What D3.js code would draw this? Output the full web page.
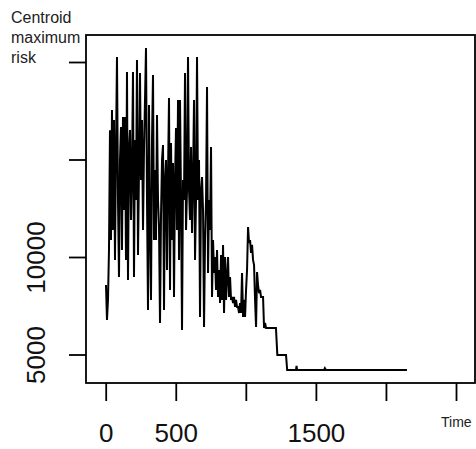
<!DOCTYPE html>
<html>
<head>
<meta charset="utf-8">
<script src="https://cdn.jsdelivr.net/npm/d3@7"></script>
<style>
  html, body { margin: 0; padding: 0; background: #fff; }
  svg { display: block; font-family: "Liberation Sans", Arial, sans-serif; }
</style>
</head>
<body>
<svg id="chart" width="476" height="449"></svg>
<script>
// dense part of the series, one sample every ~7.14 time units, starting at t = 2
const riskDense = [
  8560, 6770, 7800, 10360, 16500, 10870, 17540, 11380, 17030, 9850,
  15490, 20260, 12920, 8970, 14970, 16670, 10360, 17180, 12410, 17180,
  9850, 19490, 8820, 15490, 16510, 11900, 14460, 19490, 8970, 16000,
  12920, 20100, 10100, 14460, 19440, 13950, 17030, 11380, 15490, 18050,
  20720, 12920, 7280, 17800, 11380, 7800, 16000, 19330, 10870, 14460,
  10870, 17280, 12920, 11540, 6620, 12150, 14970, 15740, 7280, 13950,
  14970, 9330, 14200, 18150, 8310, 15850, 10870, 14820, 7950, 13950,
  16620, 11380, 18050, 9850, 18050, 12920, 6260, 13950, 12920, 19440,
  11380, 13440, 20260, 13440, 11900, 15640, 11230, 13950, 18050, 9850,
  12920, 20260, 12920, 14970, 6920, 13440, 14100, 12410, 6410, 10870,
  12920, 18720, 9180, 12920, 11380, 15640, 7950, 10870, 9180,
  10000, 8310, 10360, 7950, 9330, 7640, 10100, 7800, 10620, 7130,
  10000, 7800, 8970, 10000, 7950, 8970, 7800, 7950, 7640, 7950,
  7440, 7800, 7440, 7440, 7130, 7640, 7130, 9180, 6920, 7800,
  6920, 8310, 9330, 11540, 10720, 10870, 10210, 10620, 9850, 9590,
  7800, 6410, 9230, 8560, 8150, 8310, 7950, 7950, 7950, 6360,
  6620, 6360
];
const denseStart = 2;
const denseStep = 7.14;

// stepped tail and flat plateau
const tailTime = [1215, 1225, 1230, 1287, 1295, 1301, 1358, 1362, 1366, 1372, 1558, 1564, 1572, 2150];
const tailRisk = [6360, 4970, 4970, 4970, 4200, 4200, 4200, 4410, 4200, 4200, 4200, 4300, 4200, 4200];

const xTicks = [0, 500, 1000, 1500, 2000, 2500];
const xTickLabels = ["0", "500", "", "1500", "", ""];
const yTicks = [5000, 10000, 15000, 20000];
const yTickLabels = ["5000", "10000", "", ""];
const titleLines = ["Centroid", "maximum", "risk"];
const xLabel = "Time";

const series = riskDense.map((v, i) => ({ t: denseStart + i * denseStep, v: v }))
  .concat(tailTime.map((t, i) => ({ t: t, v: tailRisk[i] })));

const svg = d3.select("#chart");

const box = { left: 86, top: 35, right: 475, bottom: 383 };

const x = d3.scaleLinear().domain([0, 2500]).range([105.7, 456]);
const y = d3.scaleLinear().domain([5000, 20000]).range([354.5, 62]);

// data line
const line = d3.line().x(d => x(d.t)).y(d => y(d.v));
svg.append("path")
  .datum(series)
  .attr("d", line)
  .attr("fill", "none")
  .attr("stroke", "#000")
  .attr("stroke-width", 2)
  .attr("stroke-linejoin", "miter");

// box
svg.append("rect")
  .attr("x", box.left)
  .attr("y", box.top)
  .attr("width", box.right - box.left)
  .attr("height", box.bottom - box.top)
  .attr("fill", "none")
  .attr("stroke", "#000")
  .attr("stroke-width", 1.8);

// x axis
const xAxis = d3.axisBottom(x)
  .tickValues(xTicks)
  .tickSize(18)
  .tickPadding(0)
  .tickFormat((d, i) => xTickLabels[i]);

const gx = svg.append("g")
  .attr("transform", `translate(0,${box.bottom})`)
  .call(xAxis);
gx.select(".domain").remove();
gx.selectAll(".tick line").attr("stroke", "#000").attr("stroke-width", 1.8);
gx.selectAll(".tick text")
  .attr("y", 59)
  .attr("dy", null)
  .attr("fill", "#111")
  .style("font-size", "26px")
  .style("font-family", "'Liberation Sans', Arial, sans-serif");

// y axis
const yAxis = d3.axisLeft(y)
  .tickValues(yTicks)
  .tickSize(17)
  .tickFormat((d, i) => yTickLabels[i]);

const gy = svg.append("g")
  .attr("transform", `translate(${box.left},0)`)
  .call(yAxis);
gy.select(".domain").remove();
gy.selectAll(".tick line").attr("stroke", "#000").attr("stroke-width", 1.8);
gy.selectAll(".tick text")
  .attr("x", null)
  .attr("dy", null)
  .attr("text-anchor", "middle")
  .attr("transform", `translate(${45 - box.left},0) rotate(-90)`)
  .attr("fill", "#111")
  .style("font-size", "26px")
  .style("font-family", "'Liberation Sans', Arial, sans-serif");

// title lines (top left)
svg.append("g")
  .selectAll("text")
  .data(titleLines)
  .enter()
  .append("text")
  .attr("x", 11)
  .attr("y", (d, i) => 23 + i * 20)
  .attr("font-size", 16)
  .attr("fill", "#222")
  .text(d => d);

// x label
svg.append("text")
  .attr("x", 441)
  .attr("y", 427)
  .attr("font-size", 14)
  .attr("fill", "#222")
  .text(xLabel);
</script>
</body>
</html>
